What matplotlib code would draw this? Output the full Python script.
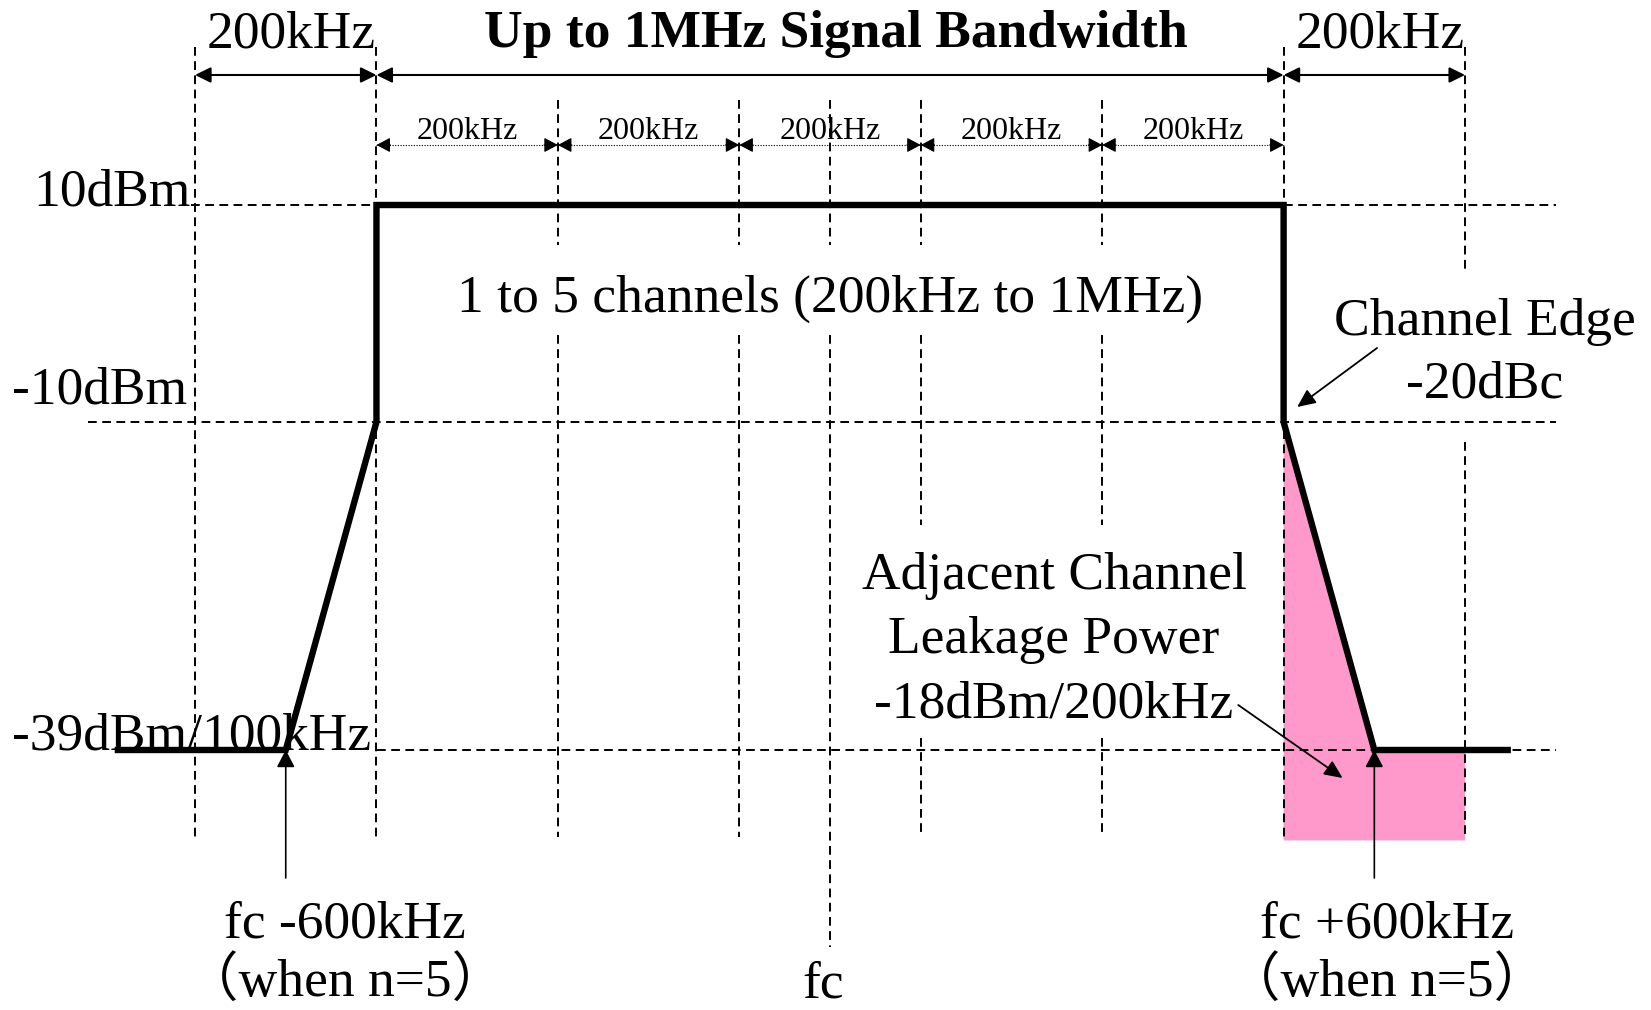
import numpy as np
import matplotlib
matplotlib.use('Agg')
import matplotlib.pyplot as plt
from matplotlib.transforms import blended_transform_factory

plt.rcParams['font.family'] = ['Liberation Serif', 'Noto Sans CJK JP', 'DejaVu Sans']

# ---------------- data ----------------
grid_khz = [-700, -500, -300, -100, 0, 100, 300, 500, 700]
mask_khz = [-785, -600, -500, -500, 500, 500, 600, 747]
mask_dbm = [-39, -39, -10, 10, 10, -10, -39, -39]
level_dbm = [10, -10, -39]
level_labels = ['10dBm', '-10dBm', '-39dBm/100kHz']
channel_edges_khz = [-500, -300, -100, 100, 300, 500]
channel_label = '200kHz'
top_spans_khz = [(-700, -500), (-500, 500), (500, 700)]
top_labels = ['200kHz', 'Up to 1MHz Signal Bandwidth', '200kHz']
acl_khz = [500, 600, 700, 700, 500]
acl_dbm = [-10, -39, -39, -47, -47]
marker_khz = [-600, 600]
marker_line1 = ['fc -600kHz', 'fc +600kHz']
marker_line2 = ['（when n=5）', '（when n=5）']
center_label = 'fc'
band_text = '1 to 5 channels (200kHz to 1MHz)'
edge_text = ['Channel Edge', '-20dBc']
acl_text = ['Adjacent Channel', 'Leakage Power', '-18dBm/200kHz']

# ---------------- figure ----------------
W, H = 1651, 1010
fig = plt.figure(figsize=(W / 100, H / 100), dpi=100)
ax = fig.add_axes([0, 0, 1, 1])
ax.axis('off')

# schematic (piecewise linear) level axis
_anc_dbm = np.array([-150.0, -39.0, -10.0, 10.0, 150.0])
_anc_px = np.array([2005.0, 750.0, 422.0, 205.0, -1314.0])


def _fwd(d):
    return -np.interp(d, _anc_dbm, _anc_px)


def _inv(v):
    return np.interp(-np.asarray(v), _anc_px[::-1], _anc_dbm[::-1])


ax.set_yscale('function', functions=(_fwd, _inv))
ax.set_xlim(-915, 905)
ax.set_ylim(float(_inv(-H)), float(_inv(0)))

bt = blended_transform_factory(ax.transData, ax.transAxes)


def Y(px):
    return 1 - px / H


FS = 38.5
FS_SMALL = 23
DASH = dict(color='k', lw=1.4, linestyle=(0, (4.5, 2.8)), zorder=2)

# pink adjacent-channel area
ax.fill(acl_khz, acl_dbm, color='#FF99CC', lw=0, zorder=1)

# vertical dashed grid lines (segments in pixel rows)
vseg = {
    -700: [(47, 837)], -500: [(47, 837)],
    -300: [(100, 245), (335, 837)], -100: [(100, 245), (335, 837)],
    0: [(100, 245), (335, 947)],
    100: [(100, 245), (335, 525), (738, 837)],
    300: [(100, 245), (335, 525), (738, 837)],
    500: [(47, 837)], 700: [(47, 272), (442, 837)],
}
for x in grid_khz:
    for a, b in vseg[x]:
        ax.plot([x, x], [Y(a), Y(b)], transform=bt, **DASH)

# horizontal dashed level lines
hext = {10: (-704, 800), -10: (-818, 800), -39: (-499, 800)}
for lv in level_dbm:
    x0, x1 = hext[lv]
    ax.plot([x0, x1], [lv, lv], **DASH)

# spectrum mask
ax.plot(mask_khz, mask_dbm, color='k', lw=4.6, solid_joinstyle='miter', zorder=4)


def arrow(xy, xytext, style, lw, hl, hw, xycoords=bt, textcoords=bt):
    ax.annotate('', xy=xy, xytext=xytext, xycoords=xycoords, textcoords=textcoords,
                arrowprops=dict(arrowstyle=f'{style},head_length={hl},head_width={hw}',
                                lw=lw, color='k', shrinkA=0, shrinkB=0,
                                mutation_scale=10), zorder=3)


# top dimension arrows
for (a, b), lab in zip(top_spans_khz, top_labels):
    arrow((b, Y(75)), (a, Y(75)), '<|-|>', 1.5, 0.95, 0.47)
    bold = lab.startswith('Up')
    ax.text((a + b) / 2 + 6, Y(47), lab, transform=bt, ha='center', va='baseline',
            fontsize=FS, fontweight='bold' if bold else 'normal', zorder=5)

# channel dimension (dotted) arrows
ax.plot([channel_edges_khz[0], channel_edges_khz[-1]], [Y(145), Y(145)], transform=bt,
        color='k', lw=0.8, linestyle=(0, (1, 1.4)), zorder=3)
for a, b in zip(channel_edges_khz[:-1], channel_edges_khz[1:]):
    arrow((b, Y(145)), (-10, 0), '-|>', 0.8, 0.85, 0.45, textcoords='offset points')
    arrow((a, Y(145)), (10, 0), '-|>', 0.8, 0.85, 0.45, textcoords='offset points')
    ax.text((a + b) / 2, Y(139), channel_label, transform=bt, ha='center', va='baseline',
            fontsize=FS_SMALL, zorder=5)

# level labels
ax.text(-705, Y(206), level_labels[0], transform=bt, ha='right', va='baseline', fontsize=FS, zorder=5)
ax.text(-709, Y(403), level_labels[1], transform=bt, ha='right', va='baseline', fontsize=FS, zorder=5)
ax.text(-902, Y(750), level_labels[2], transform=bt, ha='left', va='baseline', fontsize=FS, zorder=5)

# in-band text
ax.text(0, Y(312), band_text, transform=bt, ha='center', va='baseline', fontsize=FS, zorder=5)

# channel edge annotation
ax.text(722, Y(335), edge_text[0], transform=bt, ha='center', va='baseline', fontsize=FS, zorder=5)
ax.text(722, Y(398), edge_text[1], transform=bt, ha='center', va='baseline', fontsize=FS, zorder=5)
arrow((515, Y(407)), (603, Y(348)), '-|>', 1.3, 1.1, 0.5)

# adjacent channel leakage annotation
for s, p in zip(acl_text, [589, 653, 717]):
    ax.text(247, Y(p), s, transform=bt, ha='center', va='baseline', fontsize=FS, zorder=5)
arrow((565, Y(778)), (450, Y(705)), '-|>', 1.3, 1.1, 0.5)

# fc +/- 600 kHz markers
for x, l1, l2, cx in zip(marker_khz, marker_line1, marker_line2, [-535, 614]):
    arrow((x, -39), (x, Y(878)), '-|>', 1.2, 1.05, 0.55, xycoords='data', textcoords=bt)
    ax.text(cx, Y(938), l1, transform=bt, ha='center', va='baseline', fontsize=FS, zorder=5)
    ax.text(cx, Y(996), l2, transform=bt, ha='center', va='baseline', fontsize=FS, zorder=5)

ax.text(-8, Y(998), center_label, transform=bt, ha='center', va='baseline', fontsize=FS, zorder=5)

fig.savefig('out.png', dpi=100)
